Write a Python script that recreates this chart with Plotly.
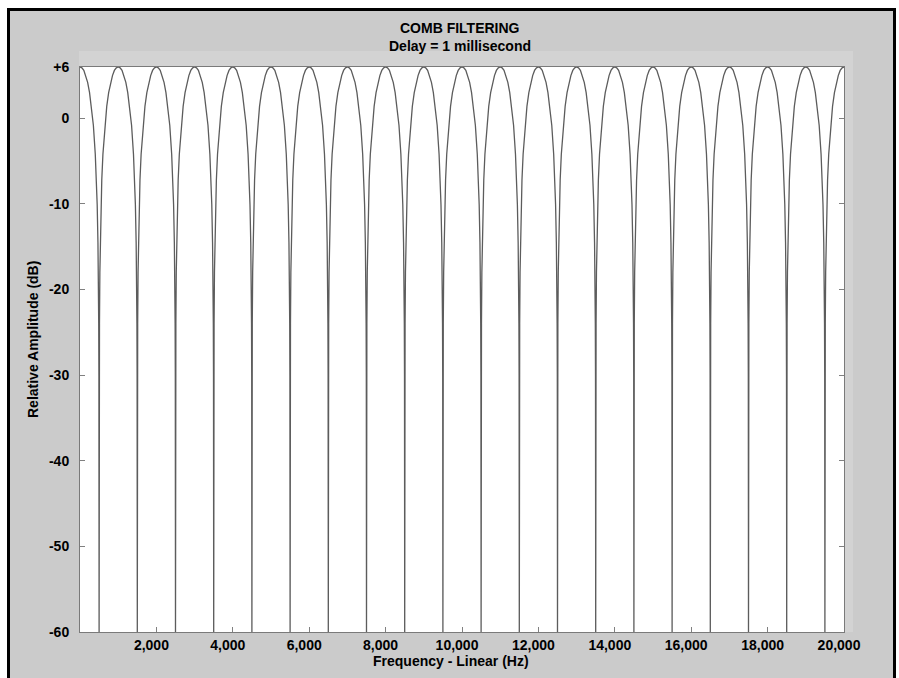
import plotly.graph_objects as go

# ---- data ----
peak_freqs_hz = [0, 1000, 2000, 3000, 4000, 5000, 6000, 7000, 8000, 9000, 10000,
                 11000, 12000, 13000, 14000, 15000, 16000, 17000, 18000, 19000, 20000]
null_freqs_hz = [500, 1500, 2500, 3500, 4500, 5500, 6500, 7500, 8500, 9500,
                 10500, 11500, 12500, 13500, 14500, 15500, 16500, 17500, 18500, 19500]
null_levels_db = [-60, -60, -60, -60, -60, -60, -60, -60, -60, -60,
                  -60, -60, -60, -60, -60, -60, -60, -60, -60, -60]
lobe_offset_hz = [0, 5, 10, 20, 30, 50, 70, 100, 150, 200, 250, 300, 350, 400, 450, 500]
lobe_level_db = [-60, -30.1, -24.0, -18.0, -14.5, -10.1, -7.2, -4.2, -0.8, 1.4,
                 3.0, 4.2, 5.0, 5.6, 5.9, 6.0]

x_tick_vals = [2000, 4000, 6000, 8000, 10000, 12000, 14000, 16000, 18000, 20000]
x_tick_text = ["2,000", "4,000", "6,000", "8,000", "10,000", "12,000", "14,000",
               "16,000", "18,000", "20,000"]
y_tick_vals = [-60, -50, -40, -30, -20, -10, 0, 6]
y_tick_text = ["-60", "-50", "-40", "-30", "-20", "-10", "0", "+6"]

title_1 = "COMB FILTERING"
title_2 = "Delay = 1 millisecond"
x_title = "Frequency - Linear (Hz)"
y_title = "Relative Amplitude (dB)"

# ---- build the curve by tiling the read lobe profile ----
xs, ys = [], []
for nf, nl in zip(null_freqs_hz, null_levels_db):
    for off, db in zip(reversed(lobe_offset_hz), reversed(lobe_level_db)):
        if off == lobe_offset_hz[-1] and xs:
            continue
        xs.append(nf - off)
        ys.append(nl if off == 0 else db)
    for off, db in zip(lobe_offset_hz[1:], lobe_level_db[1:]):
        xs.append(nf + off)
        ys.append(db)

W, H = 899, 678
L, R, T, B = 80, 844, 67, 632


def px(x):
    return (x - L) / (R - L)


def py(y):
    return (B - y) / (B - T)


fig = go.Figure()
fig.add_trace(go.Scatter(x=xs, y=ys, mode="lines",
                         line=dict(color="#5c5c5c", width=1.3),
                         hoverinfo="skip", showlegend=False))

FONT = "Liberation Sans, Arial, sans-serif"
GRAY = "#cbcbcb"

shapes = [
    # faint lighter bands above and right of the plot
    dict(type="rect", xref="paper", yref="paper", x0=px(79), x1=px(853), y0=py(67), y1=py(51),
         fillcolor="#d3d3d3", line=dict(width=0), layer="below"),
    dict(type="rect", xref="paper", yref="paper", x0=px(844), x1=px(853), y0=py(632), y1=py(67),
         fillcolor="#d3d3d3", line=dict(width=0), layer="below"),
    # white margins outside the frame
    dict(type="rect", xref="paper", yref="paper", x0=px(0), x1=px(7), y0=py(H), y1=py(0),
         fillcolor="white", line=dict(width=0), layer="above"),
    dict(type="rect", xref="paper", yref="paper", x0=px(0), x1=px(W), y0=py(8), y1=py(0),
         fillcolor="white", line=dict(width=0), layer="above"),
    dict(type="rect", xref="paper", yref="paper", x0=px(896), x1=px(W), y0=py(H), y1=py(0),
         fillcolor="white", line=dict(width=0), layer="above"),
    # black frame (left, top, right)
    dict(type="line", xref="paper", yref="paper", x0=px(8.5), x1=px(8.5), y0=py(H + 5), y1=py(8),
         line=dict(color="black", width=3), layer="above"),
    dict(type="line", xref="paper", yref="paper", x0=px(7), x1=px(896), y0=py(9.5), y1=py(9.5),
         line=dict(color="black", width=3), layer="above"),
    dict(type="line", xref="paper", yref="paper", x0=px(894.5), x1=px(894.5), y0=py(H + 5), y1=py(8),
         line=dict(color="black", width=3), layer="above"),
]

annotations = [
    dict(text=title_1, xref="paper", yref="paper", x=px(460), y=py(28), showarrow=False,
         font=dict(family=FONT, size=14, color="black", weight="bold"),
         xanchor="center", yanchor="middle"),
    dict(text=title_2, xref="paper", yref="paper", x=px(460), y=py(46), showarrow=False,
         font=dict(family=FONT, size=14, color="black", weight="bold"),
         xanchor="center", yanchor="middle"),
    dict(text=x_title, xref="paper", yref="paper", x=px(451), y=py(661), showarrow=False,
         font=dict(family=FONT, size=14, color="black", weight="bold"),
         xanchor="center", yanchor="middle"),
    dict(text=y_title, xref="paper", yref="paper", x=px(33), y=py(340), showarrow=False,
         textangle=-90,
         font=dict(family=FONT, size=14, color="black", weight="bold"),
         xanchor="center", yanchor="middle"),
]

fig.update_layout(
    width=W, height=H,
    margin=dict(l=L, r=W - R, t=T, b=H - B, pad=0),
    paper_bgcolor=GRAY,
    plot_bgcolor="white",
    showlegend=False,
    hovermode=False,
    shapes=shapes,
    annotations=annotations,
    xaxis=dict(range=[0, 20000], tickvals=x_tick_vals, ticktext=x_tick_text,
               ticks="inside", ticklen=5, tickcolor="#808080",
               ticklabelshift=-5,
               showline=True, linecolor="#7a7a7a", linewidth=1, mirror=True,
               showgrid=False, zeroline=False,
               tickfont=dict(family=FONT, size=14, color="black", weight="bold")),
    yaxis=dict(range=[-60, 6], tickvals=y_tick_vals, ticktext=y_tick_text,
               ticks="inside", ticklen=5, tickcolor="#808080",
               ticklabelstandoff=7,
               showline=True, linecolor="#7a7a7a", linewidth=1, mirror="ticks",
               showgrid=False, zeroline=False,
               tickfont=dict(family=FONT, size=14, color="black", weight="bold")),
)

fig.write_html("out.html",
               config={"displayModeBar": False, "staticPlot": True},
               post_script="document.body.style.margin='0';"
                           "document.body.style.overflow='hidden';")
